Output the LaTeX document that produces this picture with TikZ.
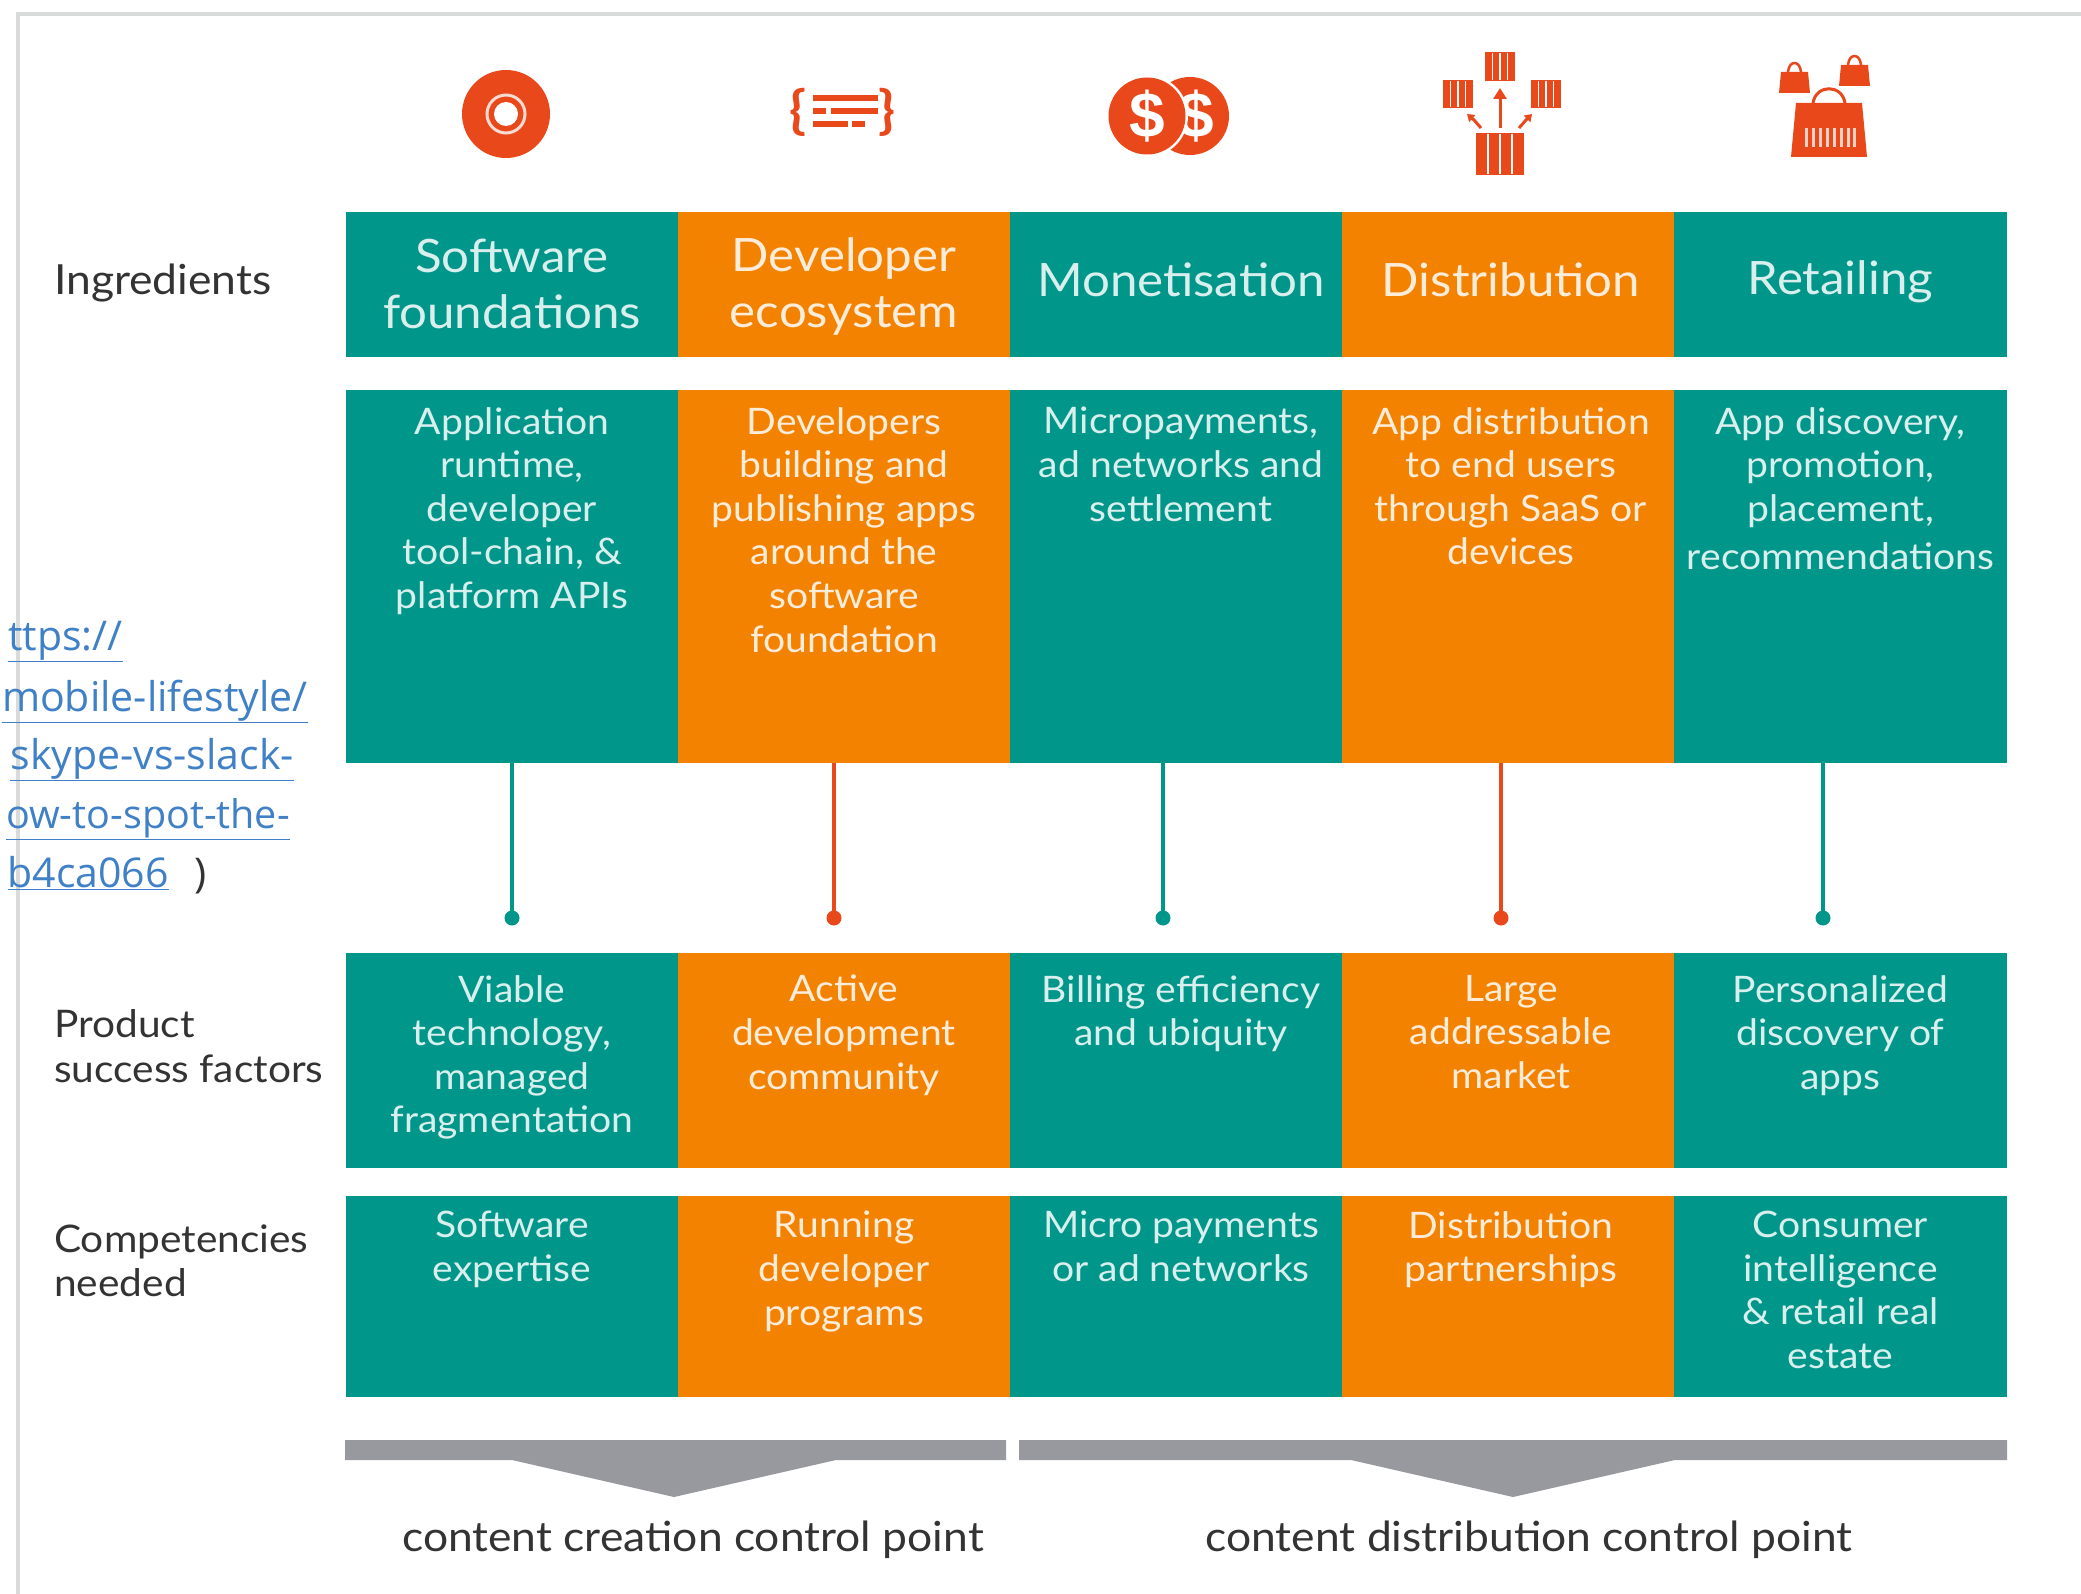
\documentclass[tikz,border=0pt]{standalone}
\usepackage{fontspec}
\setmainfont[FakeStretch=1.07]{Lato}
\newfontfamily\linkfont{Open Sans}
\newfontfamily\dollarfont{Liberation Sans}
\usetikzlibrary{arrows.meta}
\definecolor{tealc}{HTML}{00968A}
\definecolor{orangec}{HTML}{F28200}
\definecolor{redc}{HTML}{E8481A}
\definecolor{greyc}{HTML}{98989F}
\definecolor{linkc}{HTML}{3F80C6}
\definecolor{framec}{HTML}{D8DBD9}
\definecolor{labelc}{HTML}{333333}
\tikzset{
  cellbox/.style={inner sep=0pt,outer sep=0pt,anchor=north west},
  tcell/.style={cellbox,fill=tealc},
  ocell/.style={cellbox,fill=orangec},
  bodytxt/.style={anchor=north,align=center,inner sep=0pt,text=white,text opacity=.85,font=\fontsize{36.5}{43.6}\selectfont},
  headtxt/.style={anchor=center,align=center,inner sep=0pt,text=white,text opacity=.85,font=\fontsize{46}{56}\selectfont},
  sidetxt/.style={anchor=west,align=left,inner sep=0pt,text=labelc,font=\fontsize{38}{44.5}\selectfont},
  foottxt/.style={anchor=center,inner sep=0pt,text=labelc,font=\fontsize{41.5}{44}\selectfont},
  linktxt/.style={anchor=base east,inner sep=0pt,text=linkc,font=\linkfont\fontsize{41}{44}\selectfont},
  tline/.style={draw=tealc,line width=3.5pt},
  rline/.style={draw=redc,line width=3.5pt},
  tdot/.style={circle,fill=tealc,inner sep=0pt,minimum size=15pt},
  rdot/.style={circle,fill=redc,inner sep=0pt,minimum size=15pt},
  icon/.style={fill=redc,draw=none},
  bar/.style={fill=greyc,draw=none},
  frame/.style={draw=framec,line width=3.5pt},
}
\newcommand{\cellat}[6]{% name, style, x0, x1, y0, y1
  \node[#2,minimum width=#4pt-#3pt,minimum height=#6pt-#5pt] (#1) at (#3,#5) {};}
\newcommand{\crate}[5]{% x0,x1,y0,y1,n bars
  \fill[redc] (#1,#3) rectangle (#2,#4);
  \foreach \k in {1,...,#5}{
    \pgfmathsetmacro{\xx}{#1+(#2-#1)*\k/(#5+1)}
    \draw[white,line width=1.3pt] (\xx,#3+1) -- (\xx,#4-1);
  }}
\begin{document}
\begin{tikzpicture}[x=1pt,y=-1pt]
\useasboundingbox (0,0) rectangle (2081,1594);
\fill[white] (0,0) rectangle (2081,1594);
% frame
\draw[frame] (2081,14) -- (18,14) -- (18,1594);
% link text
\node[linktxt] (l1) at (123,650) {\underline{ttps://}};
\node[linktxt] (l2) at (308,711) {\underline{mobile-lifestyle/}};
\node[linktxt] (l3) at (294,769) {\underline{skype-vs-slack-}};
\node[linktxt,font=\linkfont\fontsize{39.5}{44}\selectfont] (l4) at (290,828) {\underline{ow-to-spot-the-}};
\node[linktxt] (l5) at (169,887) {\underline{b4ca066}};
\node[linktxt,text=labelc] (l6) at (207,887) {)};
% side labels
\node[sidetxt,font=\fontsize{41.5}{44.5}\selectfont] (s1) at (54,283) {Ingredients};
\node[sidetxt] (s2) at (54,1046) {Product\\success factors};
\node[sidetxt] (s3) at (54,1261) {Competencies\\needed};
% row 1
\cellat{a1}{tcell}{346}{678}{212}{357}
\cellat{a2}{ocell}{678}{1010}{212}{357}
\cellat{a3}{tcell}{1010}{1342}{212}{357}
\cellat{a4}{ocell}{1342}{1674}{212}{357}
\cellat{a5}{tcell}{1674}{2007}{212}{357}
\node[headtxt] (at1) at ([yshift=1pt]a1.center) {Software\\foundations};
\node[headtxt] (at2) at ([yshift=-2pt]a2.center) {Developer\\ecosystem};
\node[headtxt] (at3) at ([xshift=5pt,yshift=5pt]a3.center) {Monetisation};
\node[headtxt] (at4) at ([xshift=3pt,yshift=5pt]a4.center) {Distribution};
\node[headtxt] (at5) at ([yshift=3pt]a5.center) {Retailing};
% row 2
\cellat{b1}{tcell}{346}{678}{390}{763}
\cellat{b2}{ocell}{678}{1010}{390}{763}
\cellat{b3}{tcell}{1010}{1342}{390}{763}
\cellat{b4}{ocell}{1342}{1674}{390}{763}
\cellat{b5}{tcell}{1674}{2007}{390}{763}
\node[bodytxt] (bt1) at ([yshift=-17pt]b1.north) {Application\\runtime,\\developer\\tool-chain, \&\\platform APIs};
\node[bodytxt] (bt2) at ([yshift=-17pt]b2.north) {Developers\\building and\\publishing apps\\around the\\software\\foundation};
\node[bodytxt] (bt3) at ([xshift=5pt,yshift=-17pt]b3.north) {Micropayments,\\ad networks and\\settlement};
\node[bodytxt] (bt4) at ([xshift=3pt,yshift=-17pt]b4.north) {App distribution\\to end users\\through SaaS or\\devices};
\node[bodytxt] (bt5) at ([yshift=-17pt]b5.north) {App discovery,\\promotion,\\placement,\\[5pt]recommendations};
% connectors
\node[tdot] (d1) at (512,918) {};
\node[rdot] (d2) at (834,918) {};
\node[tdot] (d3) at (1163,918) {};
\node[rdot] (d4) at (1501,918) {};
\node[tdot] (d5) at (1823,918) {};
\draw[tline] (d1.center) -- (d1.center |- b1.south);
\draw[rline] (d2.center) -- (d2.center |- b2.south);
\draw[tline] (d3.center) -- (d3.center |- b3.south);
\draw[rline] (d4.center) -- (d4.center |- b4.south);
\draw[tline] (d5.center) -- (d5.center |- b5.south);
% row 3
\cellat{c1}{tcell}{346}{678}{953}{1168}
\cellat{c2}{ocell}{678}{1010}{953}{1168}
\cellat{c3}{tcell}{1010}{1342}{953}{1168}
\cellat{c4}{ocell}{1342}{1674}{953}{1168}
\cellat{c5}{tcell}{1674}{2007}{953}{1168}
\node[bodytxt] (ct1) at ([yshift=-22pt]c1.north) {Viable\\technology,\\managed\\fragmentation};
\node[bodytxt] (ct2) at ([yshift=-22pt]c2.north) {Active\\development\\community};
\node[bodytxt] (ct3) at ([xshift=5pt,yshift=-22pt]c3.north) {Billing efficiency\\and ubiquity};
\node[bodytxt] (ct4) at ([xshift=3pt,yshift=-22pt]c4.north) {Large\\addressable\\market};
\node[bodytxt] (ct5) at ([yshift=-22pt]c5.north) {Personalized\\discovery of\\apps};
% row 4
\cellat{e1}{tcell}{346}{678}{1196}{1397}
\cellat{e2}{ocell}{678}{1010}{1196}{1397}
\cellat{e3}{tcell}{1010}{1342}{1196}{1397}
\cellat{e4}{ocell}{1342}{1674}{1196}{1397}
\cellat{e5}{tcell}{1674}{2007}{1196}{1397}
\node[bodytxt] (et1) at ([yshift=-15pt]e1.north) {Software\\expertise};
\node[bodytxt] (et2) at ([yshift=-15pt]e2.north) {Running\\developer\\programs};
\node[bodytxt] (et3) at ([xshift=5pt,yshift=-15pt]e3.north) {Micro payments\\or ad networks};
\node[bodytxt] (et4) at ([xshift=3pt,yshift=-15pt]e4.north) {Distribution\\partnerships};
\node[bodytxt] (et5) at ([yshift=-15pt]e5.north) {Consumer\\intelligence\\\& retail real\\estate};
% bars
\fill[bar] (345,1440) -- (1006,1440) -- (1006,1460) -- (836,1460) -- (674,1497) -- (512,1460) -- (345,1460) -- cycle;
\fill[bar] (1019,1440) -- (2007,1440) -- (2007,1460) -- (1675,1460) -- (1513,1497) -- (1351,1460) -- (1019,1460) -- cycle;
\node[foottxt] (f1) at (693,1540) {content creation control point};
\node[foottxt] (f2) at (1529,1540) {content distribution control point};
% icon 1: disc
\fill[icon] (506,114) circle (44);
\draw[white,opacity=.8,line width=3pt] (506,114) circle (19);
\fill[white] (506,114) circle (12);
% icon 2: braces
\node[inner sep=0pt,text=redc,font=\fontsize{52}{52}\selectfont\bfseries] (ib1) at (798,112) {\{};
\node[inner sep=0pt,text=redc,font=\fontsize{52}{52}\selectfont\bfseries] (ib2) at (887,112) {\}};
\fill[redc] (813,95) rectangle (878,101);
\fill[redc] (813,108) rectangle (826,114);
\fill[redc] (831,108) rectangle (878,114);
\fill[redc] (813,121) rectangle (848,127);
\fill[redc] (852,121) rectangle (865,127);
% icon 3: coins
\fill[icon] (1190,116) circle (39);
\node[inner sep=0pt,text=white,font=\dollarfont\bfseries\fontsize{64}{64}\selectfont] (cd2) at (1196,116) {\$};
\fill[white] (1147,116) circle (41);
\fill[icon] (1147,116) circle (38.5);
\node[inner sep=0pt,text=white,font=\dollarfont\bfseries\fontsize{64}{64}\selectfont] (cd1) at (1147,116) {\$};
% icon 4: distribution
\crate{1485}{1515}{52}{81}{3}
\crate{1443}{1473}{80}{108}{3}
\crate{1531}{1561}{80}{108}{3}
\crate{1476}{1524}{133}{175}{3}
\draw[redc,line width=3pt,-{Triangle[length=11pt,width=13pt]}] (1500,128) -- (1500,88);
\draw[redc,line width=3pt,-{Triangle[length=7pt,width=9pt]}] (1481,128) -- (1474,120) -- (1467,114);
\draw[redc,line width=3pt,-{Triangle[length=7pt,width=9pt]}] (1519,128) -- (1526,120) -- (1532,114);
% icon 5: bags
\fill[icon] (1796,103) -- (1862,103) -- (1867,157) -- (1791,157) -- cycle;
\draw[redc,line width=3pt] (1813,103) .. controls (1816,84) and (1842,84) .. (1845,103);
\foreach \xb in {1806,1813,1820,1827,1834,1841,1848,1854}{
  \draw[white,opacity=.75,line width=3pt] (\xb,128) -- (\xb,147);
}
\fill[icon] (1781,72) -- (1808,72) -- (1810,93) -- (1779,93) -- cycle;
\draw[redc,line width=2.5pt] (1788,72) .. controls (1789,60) and (1800,60) .. (1801,72);
\fill[icon] (1841,65) -- (1868,65) -- (1870,86) -- (1839,86) -- cycle;
\draw[redc,line width=2.5pt] (1848,65) .. controls (1849,53) and (1860,53) .. (1861,65);
\end{tikzpicture}
\end{document}
